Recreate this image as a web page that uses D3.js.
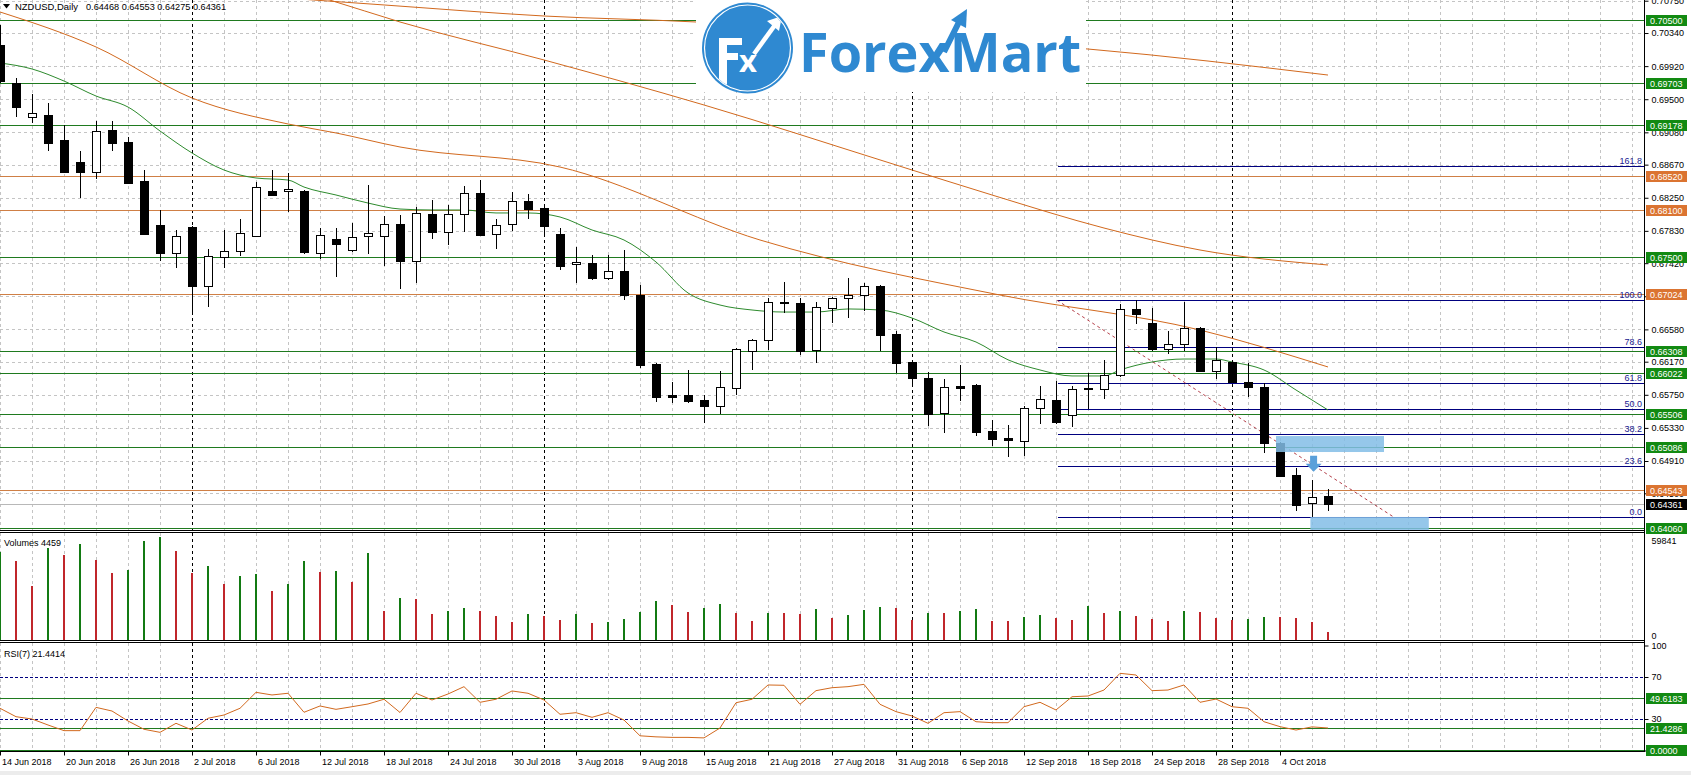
<!DOCTYPE html>
<html><head><meta charset="utf-8">
<script src="https://cdn.jsdelivr.net/npm/d3@7"></script>
<style>
body{margin:0;background:#fff;overflow:hidden}
svg{display:block}
text{font-family:"Liberation Sans",Arial,sans-serif;font-size:9px}
</style></head>
<body><svg id="c" width="1691" height="775"></svg>
<script>
// ---------------- DATA ----------------
const dates = ["2018-06-14","2018-06-15","2018-06-18","2018-06-19","2018-06-20","2018-06-21","2018-06-22","2018-06-25","2018-06-26","2018-06-27","2018-06-28","2018-06-29",
"2018-07-02","2018-07-03","2018-07-04","2018-07-05","2018-07-06","2018-07-09","2018-07-10","2018-07-11","2018-07-12","2018-07-13","2018-07-16","2018-07-17","2018-07-18","2018-07-19","2018-07-20","2018-07-23","2018-07-24","2018-07-25","2018-07-26","2018-07-27","2018-07-30","2018-07-31",
"2018-08-01","2018-08-02","2018-08-03","2018-08-06","2018-08-07","2018-08-08","2018-08-09","2018-08-10","2018-08-13","2018-08-14","2018-08-15","2018-08-16","2018-08-17","2018-08-20","2018-08-21","2018-08-22","2018-08-23","2018-08-24","2018-08-27","2018-08-28","2018-08-29","2018-08-30","2018-08-31",
"2018-09-03","2018-09-04","2018-09-05","2018-09-06","2018-09-07","2018-09-10","2018-09-11","2018-09-12","2018-09-13","2018-09-14","2018-09-17","2018-09-18","2018-09-19","2018-09-20","2018-09-21","2018-09-24","2018-09-25","2018-09-26","2018-09-27","2018-09-28",
"2018-10-01","2018-10-02","2018-10-03","2018-10-04","2018-10-05","2018-10-08","2018-10-09"];

const open = [0.70188,0.69706,0.69275,0.69300,0.68983,0.68704,0.68577,0.69110,0.68957,0.68463,
0.67904,0.67549,0.67879,0.67130,0.67498,0.67575,0.67765,0.68336,0.68336,0.68336,
0.67549,0.67727,0.67587,0.67765,0.67765,0.67917,0.67448,0.68044,0.67815,0.68044,
0.68310,0.67790,0.67917,0.68209,0.68120,0.67790,0.67409,0.67422,0.67232,0.67321,
0.67016,0.66141,0.65747,0.65747,0.65684,0.65608,0.65836,0.66306,0.66445,0.66927,
0.66915,0.66318,0.66851,0.66978,0.67016,0.67130,0.66521,0.66166,0.65963,0.65519,
0.65862,0.65874,0.65291,0.65202,0.65164,0.65583,0.65684,0.65494,0.65836,0.65824,
0.66001,0.66839,0.66661,0.66331,0.66394,0.66597,0.66052,0.66166,0.65912,0.65849,
0.65138,0.64733,0.64377,0.64468];
const high = [0.70442,0.69769,0.69566,0.69452,0.69173,0.68843,0.69224,0.69224,0.69021,0.68602,
0.68095,0.67841,0.67890,0.67600,0.67841,0.67980,0.68450,0.68602,0.68564,0.68348,
0.67866,0.67866,0.67930,0.68412,0.68018,0.68031,0.68133,0.68222,0.68158,0.68399,
0.68475,0.67980,0.68323,0.68298,0.68133,0.67866,0.67625,0.67524,0.67524,0.67587,
0.67143,0.66150,0.65912,0.66065,0.65747,0.66052,0.66340,0.66458,0.66978,0.67181,
0.66978,0.66927,0.66985,0.67232,0.67168,0.67140,0.66559,0.66175,0.66039,0.65950,
0.66128,0.65885,0.65430,0.65367,0.65608,0.65862,0.65925,0.65862,0.66027,0.66191,
0.66902,0.66953,0.66851,0.66559,0.66927,0.66610,0.66356,0.66175,0.66153,0.65900,
0.65145,0.64821,0.64669,0.64553];
const low = [0.69706,0.69275,0.69198,0.68843,0.68564,0.68247,0.68488,0.68843,0.68425,0.67777,
0.67448,0.67359,0.66762,0.66864,0.67359,0.67511,0.67760,0.68272,0.68069,0.67536,
0.67473,0.67245,0.67562,0.67536,0.67384,0.67092,0.67168,0.67727,0.67651,0.67815,
0.67765,0.67600,0.67828,0.67980,0.67790,0.67333,0.67168,0.67207,0.67207,0.66953,
0.66090,0.65659,0.65646,0.65646,0.65392,0.65506,0.65747,0.66065,0.66318,0.66788,
0.66255,0.66153,0.66661,0.66724,0.66813,0.66306,0.66027,0.65887,0.65354,0.65265,
0.65671,0.65227,0.65100,0.64961,0.64974,0.65380,0.65380,0.65342,0.65570,0.65697,
0.65976,0.66648,0.66306,0.66268,0.66306,0.66040,0.65950,0.65900,0.65722,0.65012,
0.64707,0.64276,0.64200,0.64275];
const close = [0.69731,0.69401,0.69325,0.68945,0.68577,0.68577,0.69097,0.68945,0.68437,0.67790,
0.67549,0.67765,0.67130,0.67511,0.67575,0.67803,0.68386,0.68285,0.68361,0.67562,
0.67777,0.67663,0.67752,0.67803,0.67917,0.67448,0.68057,0.67815,0.68044,0.68310,
0.67777,0.67904,0.68209,0.68107,0.67892,0.67384,0.67435,0.67232,0.67321,0.67016,
0.66128,0.65722,0.65722,0.65671,0.65608,0.65849,0.66331,0.66445,0.66927,0.66915,
0.66306,0.66864,0.66978,0.67016,0.67130,0.66509,0.66153,0.65963,0.65506,0.65849,
0.65836,0.65278,0.65189,0.65177,0.65583,0.65697,0.65405,0.65824,0.65824,0.66001,
0.66839,0.66775,0.66331,0.66394,0.66597,0.66052,0.66191,0.65912,0.65849,0.65138,
0.64720,0.64352,0.64453,0.64361];

const volume = [50330,45030,30780,52270,48450,54720,45600,38360,39900,56430,
58500,50730,38360,42180,31920,36480,37620,27930,31920,45030,
38760,39330,33060,49420,16700,23770,23370,14650,16530,18070,
16530,13680,10260,14820,13850,11400,14820,9860,10260,11970,
15960,22230,19950,15960,18240,20520,15390,10830,15390,15220,
14820,17670,12540,14250,17100,18810,18240,11400,15390,15220,
16530,17670,10830,10660,13110,14250,12540,11400,19380,15390,
16530,13680,11970,10830,16530,15960,12540,11400,11970,13110,
12940,12540,10260,4459];

const rsi = [40.2,32.2,30.0,24.3,18.9,18.9,41.1,37.6,28.1,20.2,
17.3,25.9,19.5,30.7,33.8,40.2,55.4,52.9,54.5,36.4,
42.4,39.2,41.7,44.3,48.8,36.2,54.5,48.1,53.8,60.8,
45.9,48.8,56.7,54.5,48.1,34.5,36.0,31.6,36.0,29.0,
14.0,13.0,12.5,12.5,12.0,21.4,45.5,48.8,62.4,62.1,
44.0,57.0,59.8,60.8,63.0,44.0,37.0,32.9,25.9,36.0,
37.0,27.4,26.5,26.5,41.7,45.9,38.6,51.2,51.9,57.6,
73.5,71.9,57.0,57.6,62.4,45.9,49.0,41.7,40.2,27.4,
22.7,19.5,22.5,21.44];

// moving averages read at bar positions: [bar index, price]
const maGreen = [[0,0.69960],[2,0.69884],[4,0.69731],[6,0.69541],[8,0.69401],[10,0.69097],[12,0.68818],[14,0.68602],[16,0.68501],[18,0.68475],[19,0.68386],[21,0.68285],[23,0.68183],[25,0.68107],[27,0.68095],[29,0.68095],[31,0.68057],[33,0.68057],[35,0.68006],[37,0.67841],[39,0.67714],[41,0.67435],[43,0.67042],[45,0.66889],[47,0.66826],[49,0.66800],[51,0.66800],[53,0.66839],[55,0.66826],[57,0.66724],[59,0.66547],[61,0.66420],[63,0.66194],[65,0.66065],[67,0.65989],[69,0.65989],[70,0.66065],[72,0.66166],[74,0.66204],[76,0.66204],[77,0.66166],[79,0.66065],[81,0.65811],[83,0.65557]];
const maOrange1 = [[0,0.71076],[10,0.70911],[19.6,0.70759],[24,0.70696],[34,0.70556],[43.5,0.70480],[55,0.70315],[68,0.70137],[83,0.69807]];
const maOrange2 = [[10,0.71330],[20.6,0.70759],[25,0.70480],[34,0.69998],[44,0.69427],[56,0.68666],[62,0.68285],[69,0.67866],[75,0.67587],[83,0.67397]];
const maOrange3 = [[0,0.70607],[6,0.70163],[12,0.69516],[18,0.69186],[21,0.69072],[25,0.68894],[35,0.68640],[47.5,0.67714],[62.5,0.67016],[75,0.66572],[83,0.66103]];

const greenLevels = [0.70500,0.69703,0.69178,0.67500,0.66308,0.66022,0.65506,0.65086,0.64060];
const orangeLevels = [0.68520,0.68100,0.67024,0.64543];
const lastPrice = 0.64361;
const priceTicks = ["0.70750","0.70340","0.69920","0.69500","0.69080","0.68670","0.68250","0.67830","0.67420","0.67000","0.66580","0.66170","0.65750","0.65330","0.64910","0.64500"];
const dateTicks = ["14 Jun 2018","20 Jun 2018","26 Jun 2018","2 Jul 2018","6 Jul 2018","12 Jul 2018","18 Jul 2018","24 Jul 2018","30 Jul 2018","3 Aug 2018","9 Aug 2018","15 Aug 2018","21 Aug 2018","27 Aug 2018","31 Aug 2018","6 Sep 2018","12 Sep 2018","18 Sep 2018","24 Sep 2018","28 Sep 2018","4 Oct 2018"];
const dateTickIdx = [0,4,8,12,16,20,24,28,32,36,40,44,48,52,56,60,64,68,72,76,80];

const fibLevels = [161.8,100.0,78.6,61.8,50.0,38.2,23.6,0.0];
const fibHigh = 0.66950, fibLow = 0.64200, fibStartIdx = 66.06;
const trend = [[66.06,0.66950],[87.1,0.64200]];
const zones = [[79.75,86.5,0.65227,0.65024],[81.9,89.3,0.64200,0.63997]];
const arrowAt = [82.1,0.64977,0.64773];

const volMax = 59841;
const rsiTicks = [100,70,30,0];
const rsiDashed = [70,30];
const rsiLevels = [49.6183,21.4286,0.0000];
const headerName = "NZDUSD,Daily";
const headerOHLC = "0.64468 0.64553 0.64275 0.64361";
const volLabel = "Volumes 4459";
const rsiLabel = "RSI(7) 21.4414";

// ---------------- LAYOUT ----------------
const R = 1644;
const P = {main:[0,530], vol:[533,640], rsi:[643,751]};
const x = d3.scaleLinear().domain([0, dates.length-1]).range([0, 1328]);
const y = d3.scaleLinear().domain([0.64022,0.70759]).range([531,0]);
const yv = d3.scaleLinear().domain([0,volMax]).range([640,535]);
const yr = d3.scaleLinear().domain([0,100]).range([750.5,645.5]);
const cr = v => Math.round(v)+0.5;
const fmt5 = d3.format(".5f");

const C = {grid:"#c4c4c4", green:"#1f7a1f", greenBox:"#128a12", orange:"#cf7f45", orangeBox:"#db7431",
  ma:"#d2691e", maG:"#2e8b2e", navy:"#00007f", blue:"#2f89d1"};

const svg = d3.select("#c");
const defs = svg.append("defs");
defs.append("clipPath").attr("id","cm").append("rect").attr("x",0).attr("y",0).attr("width",R).attr("height",530);
defs.append("clipPath").attr("id","cv").append("rect").attr("x",0).attr("y",533).attr("width",R).attr("height",107);
defs.append("clipPath").attr("id","cr").append("rect").attr("x",0).attr("y",643).attr("width",R).attr("height",108);

svg.append("rect").attr("width",1691).attr("height",775).attr("fill","#fff");
svg.append("rect").attr("x",0).attr("y",771).attr("width",1691).attr("height",4).attr("fill","#ececec");

// grid
const gridIdx = d3.range(0, 103, 2);
const gg = svg.append("g").attr("stroke",C.grid).attr("stroke-dasharray","3,3").attr("shape-rendering","crispEdges");
Object.values(P).forEach(([t,b]) => {
  gg.append("g").selectAll("line").data(gridIdx).join("line")
    .attr("x1",d=>cr(x(d))).attr("x2",d=>cr(x(d))).attr("y1",t).attr("y2",b);
});
gg.append("g").selectAll("line").data(priceTicks).join("line")
  .attr("x1",0).attr("x2",R).attr("y1",d=>cr(y(+d))).attr("y2",d=>cr(y(+d)));

// month separators
const sepIdx = dates.map((d,i)=>i).filter(i => i>0 && dates[i].slice(5,7)!==dates[i-1].slice(5,7));
const sg = svg.append("g").attr("stroke","#000").attr("stroke-dasharray","3,3").attr("shape-rendering","crispEdges");
Object.values(P).forEach(([t,b]) => {
  sg.append("g").selectAll("line").data(sepIdx).join("line")
    .attr("x1",d=>cr(x(d))).attr("x2",d=>cr(x(d))).attr("y1",t).attr("y2",b);
});

// main panel content
const gm = svg.append("g").attr("clip-path","url(#cm)");
gm.append("line").attr("x1",0).attr("x2",R).attr("y1",cr(y(lastPrice))).attr("y2",cr(y(lastPrice))).attr("stroke","#b8b8b8");
gm.append("g").selectAll("line").data(greenLevels).join("line")
  .attr("x1",0).attr("x2",R).attr("y1",d=>cr(y(d))).attr("y2",d=>cr(y(d))).attr("stroke",C.green).attr("shape-rendering","crispEdges");
gm.append("g").selectAll("line").data(orangeLevels).join("line")
  .attr("x1",0).attr("x2",R).attr("y1",d=>cr(y(d))).attr("y2",d=>cr(y(d))).attr("stroke",C.orange).attr("shape-rendering","crispEdges");

// fibonacci
const fibP = l => fibLow + (fibHigh-fibLow)*l/100;
const fg = gm.append("g");
fg.selectAll("line").data(fibLevels).join("line")
  .attr("x1",cr(x(fibStartIdx))).attr("x2",R).attr("y1",d=>cr(y(fibP(d)))).attr("y2",d=>cr(y(fibP(d))))
  .attr("stroke",C.navy).attr("shape-rendering","crispEdges");
fg.selectAll("text").data(fibLevels).join("text")
  .attr("x",R-2).attr("y",d=>y(fibP(d))-2).attr("text-anchor","end").attr("fill","#202090").text(d=>d.toFixed(1));
gm.append("line").attr("x1",x(trend[0][0])).attr("y1",y(trend[0][1])).attr("x2",x(trend[1][0])).attr("y2",y(trend[1][1]))
  .attr("stroke","#b5404a").attr("stroke-dasharray","3,3");

// moving averages
const maLine = d3.line().x(d=>x(d[0])).y(d=>y(d[1])).curve(d3.curveMonotoneX);
[[maOrange1,C.ma],[maOrange2,C.ma],[maOrange3,C.ma],[maGreen,C.maG]].forEach(([d,c]) =>
  gm.append("path").attr("d",maLine(d)).attr("fill","none").attr("stroke",c).attr("stroke-width",1));

// candles
const bars = dates.map((d,i)=>({i,o:open[i],h:high[i],l:low[i],c:close[i]}));
const cg = gm.append("g");
cg.selectAll("line").data(bars).join("line")
  .attr("x1",d=>cr(x(d.i))).attr("x2",d=>cr(x(d.i))).attr("y1",d=>Math.round(y(d.h))).attr("y2",d=>Math.round(y(d.l)))
  .attr("stroke","#000").attr("shape-rendering","crispEdges");
cg.selectAll("rect").data(bars).join("rect")
  .attr("x",d=>Math.round(x(d.i))-3.5).attr("width",8)
  .attr("y",d=>Math.round(y(Math.max(d.o,d.c)))+0.5)
  .attr("height",d=>Math.max(1,Math.round(y(Math.min(d.o,d.c)))-Math.round(y(Math.max(d.o,d.c)))))
  .attr("fill",d=>d.c<d.o?"#000":"#fff").attr("stroke","#000").attr("shape-rendering","crispEdges");

// zones and arrow
gm.append("g").selectAll("rect").data(zones).join("rect")
  .attr("x",d=>x(d[0])).attr("width",d=>x(d[1])-x(d[0])).attr("y",d=>y(d[2])).attr("height",d=>y(d[3])-y(d[2]))
  .attr("fill","#83bde6").attr("opacity",0.85);
{
  const ax = x(arrowAt[0]), a1 = y(arrowAt[1]), a2 = y(arrowAt[2]);
  const mid = a1 + (a2-a1)*0.5;
  gm.append("path").attr("d",`M${ax-3.5},${a1}H${ax+3.5}V${mid}H${ax+8}L${ax},${a2}L${ax-8},${mid}H${ax-3.5}Z`).attr("fill","#5aa0da");
}

// logo
const lg = svg.append("g");
lg.append("rect").attr("x",696).attr("y",0).attr("width",390).attr("height",92).attr("fill","#fff");
lg.append("circle").attr("cx",747.5).attr("cy",48).attr("r",45.5).attr("fill",C.blue);
lg.append("circle").attr("cx",747.5).attr("cy",48).attr("r",43).attr("fill","none").attr("stroke","#fff").attr("stroke-width",1.2);
defs.append("clipPath").attr("id","lc").append("circle").attr("cx",747.5).attr("cy",48).attr("r",42.3);
const inner = lg.append("g").attr("clip-path","url(#lc)");
inner.append("path").attr("d","M719,38H742V45H727V53H738V60H727V95H719Z").attr("fill","#fff");
inner.append("text").attr("x",739).attr("y",72).text("x").attr("fill","#fff")
  .style("font-family","'Open Sans'").style("font-weight","bold").style("font-size","31px");
inner.append("line").attr("x1",754).attr("y1",54).attr("x2",775).attr("y2",25).attr("stroke","#fff").attr("stroke-width",4.5);
inner.append("path").attr("d","M782,16L767,21L779,31Z").attr("fill","#fff");
lg.append("text").attr("x",799).attr("y",72).text("ForexMart").attr("fill",C.blue)
  .style("font-family","'Open Sans'").style("font-weight","bold").style("font-size","54px");
lg.append("line").attr("x1",944).attr("y1",52).attr("x2",959).attr("y2",22).attr("stroke",C.blue).attr("stroke-width",6);
lg.append("path").attr("d","M967,9L951,20L966,28Z").attr("fill",C.blue);

// header
svg.append("path").attr("d","M3,4H10L6.5,8.5Z").attr("fill","#000");
svg.append("text").attr("x",15).attr("y",10).text(headerName).attr("fill","#000")
  .attr("textLength",63).attr("lengthAdjust","spacingAndGlyphs");
svg.append("text").attr("x",86).attr("y",10).text(headerOHLC).attr("fill","#000")
  .attr("textLength",140).attr("lengthAdjust","spacingAndGlyphs");

// volume panel
const gv = svg.append("g").attr("clip-path","url(#cv)");
gv.selectAll("rect").data(volume).join("rect")
  .attr("x",(d,i)=>Math.round(x(i))-1).attr("width",2)
  .attr("y",d=>Math.round(yv(d))).attr("height",d=>640-Math.round(yv(d)))
  .attr("fill",(d,i)=> i===0 || d>volume[i-1] ? "#137a13" : "#c0262b");
svg.append("text").attr("x",4).attr("y",546).text(volLabel);

// rsi panel
const grr = svg.append("g").attr("clip-path","url(#cr)");
grr.selectAll("line.d").data(rsiDashed).join("line").attr("class","d")
  .attr("x1",0).attr("x2",R).attr("y1",d=>cr(yr(d))).attr("y2",d=>cr(yr(d))).attr("stroke",C.navy).attr("stroke-dasharray","3,2");
grr.selectAll("line.g").data(rsiLevels).join("line").attr("class","g")
  .attr("x1",0).attr("x2",R).attr("y1",d=>cr(yr(d))-(d===0?1:0)).attr("y2",d=>cr(yr(d))-(d===0?1:0)).attr("stroke",C.green);
grr.append("path").attr("d",d3.line().x((d,i)=>x(i)).y(d=>yr(d))(rsi)).attr("fill","none").attr("stroke",C.ma).attr("stroke-width",1);
svg.append("text").attr("x",4).attr("y",657).text(rsiLabel);

// panel frames
const fr = svg.append("g").attr("stroke","#000").attr("shape-rendering","crispEdges");
[530.5,532.5,640.5,642.5,751.5].forEach(v => fr.append("line").attr("x1",0).attr("x2",R+1).attr("y1",v).attr("y2",v));
fr.append("line").attr("x1",R+0.5).attr("x2",R+0.5).attr("y1",0).attr("y2",752);

// price axis
const pa = svg.append("g").attr("transform",`translate(${R+0.5},0)`)
  .call(d3.axisRight(y).tickValues(priceTicks.map(Number)).tickFormat(fmt5).tickSize(4).tickPadding(3));
pa.select(".domain").remove();
pa.selectAll("text").attr("font-family","Liberation Sans").attr("font-size",9).attr("fill","#000");

// level boxes
function box(val, color, label, yy){
  svg.append("rect").attr("x",R+2).attr("y",Math.round(yy)-5).attr("width",41).attr("height",11).attr("fill",color);
  svg.append("text").attr("x",R+6).attr("y",Math.round(yy)+3.5).attr("fill","#fff").text(label);
}
greenLevels.forEach(v=>box(v,C.greenBox,fmt5(v),y(v)));
orangeLevels.forEach(v=>box(v,C.orangeBox,fmt5(v),y(v)));
box(lastPrice,"#000",fmt5(lastPrice),y(lastPrice));

// volume axis
const va = svg.append("g").attr("transform",`translate(${R+0.5},0)`)
  .call(d3.axisRight(yv).tickValues([volMax,0]).tickFormat(d3.format("d")).tickSize(0).tickPadding(7));
va.select(".domain").remove();
va.selectAll("text").attr("font-size",9).attr("fill","#000").attr("dy",(d)=>d===0?"-0.2em":"0.9em");

// rsi axis
const ra = svg.append("g").attr("transform",`translate(${R+0.5},0)`)
  .call(d3.axisRight(yr).tickValues(rsiTicks).tickFormat(d3.format("d")).tickSize(4).tickPadding(3));
ra.select(".domain").remove();
ra.selectAll("text").attr("font-size",9).attr("fill","#000");
rsiLevels.forEach(v=>box(v,C.greenBox,v.toFixed(4),yr(v)-(v===0?1:0)));

// date axis
const da = svg.append("g").attr("transform","translate(0,751.5)");
da.selectAll("line").data(dateTickIdx).join("line")
  .attr("x1",d=>cr(x(d))).attr("x2",d=>cr(x(d))).attr("y1",0).attr("y2",4).attr("stroke","#000");
da.selectAll("text").data(dateTicks).join("text")
  .attr("x",(d,i)=>x(dateTickIdx[i])+2).attr("y",13).text(d=>d).attr("fill","#000");
</script>
</body></html>
